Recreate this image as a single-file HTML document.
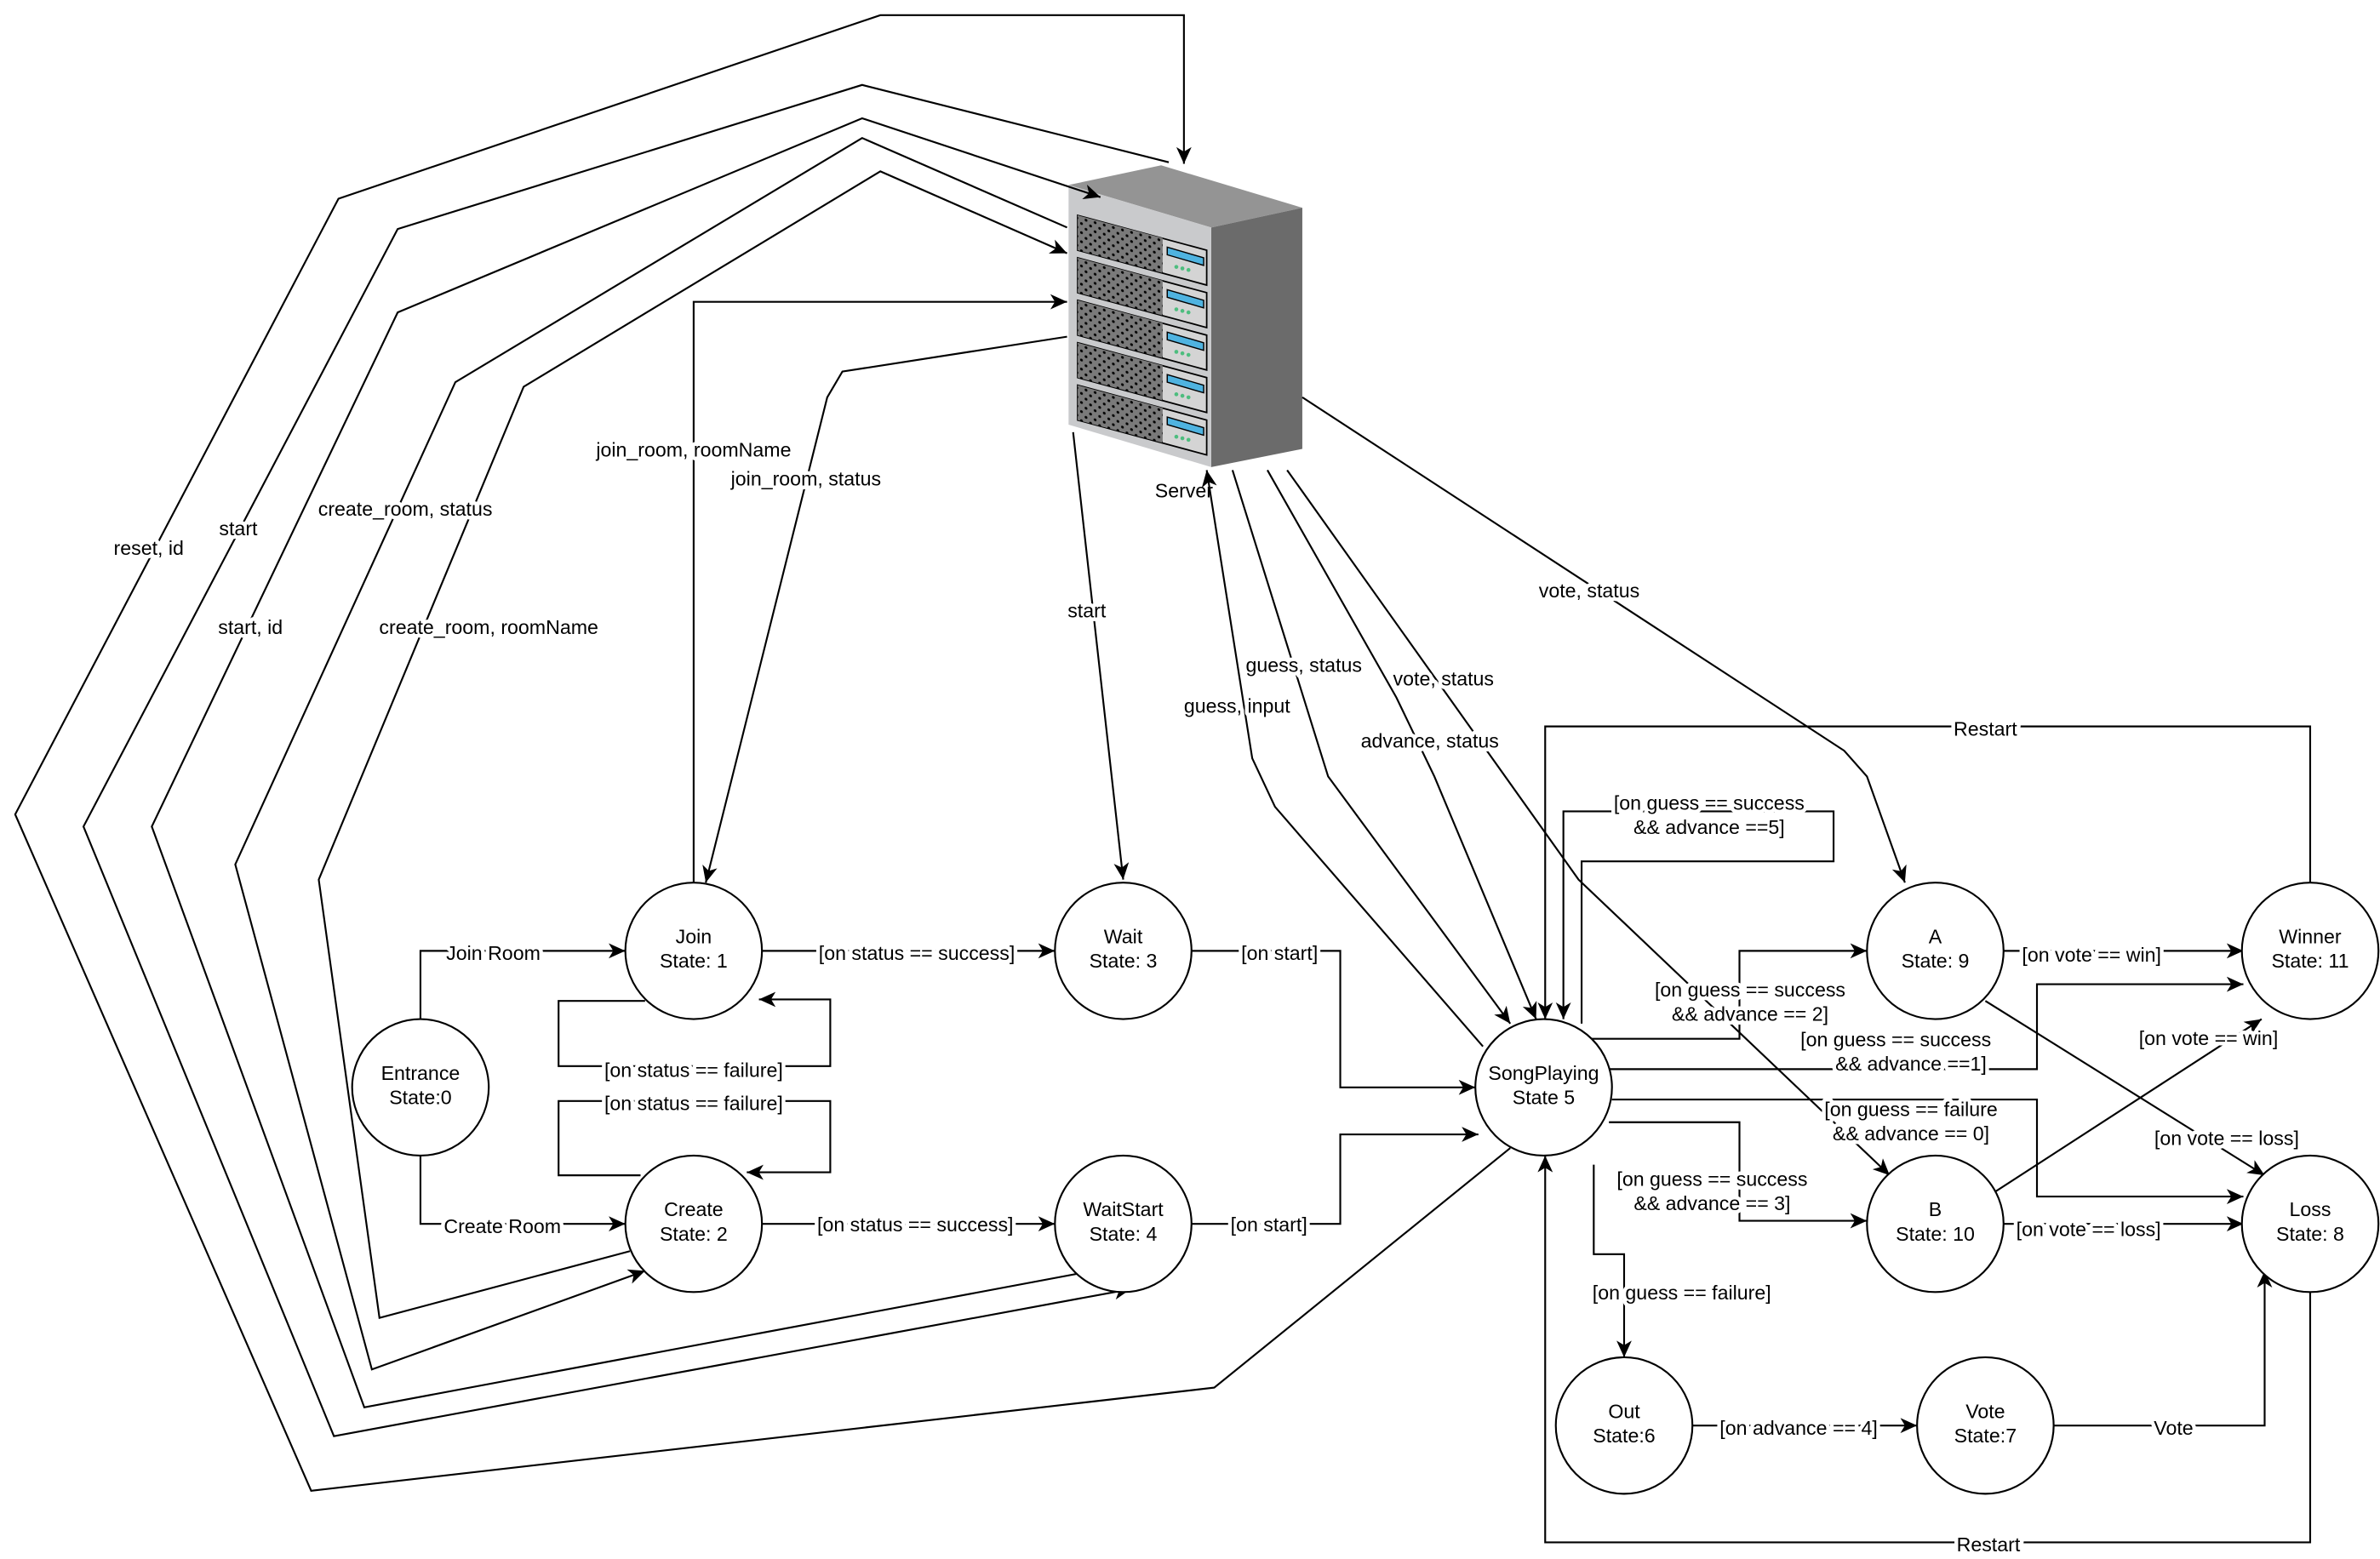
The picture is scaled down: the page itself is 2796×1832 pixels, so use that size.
<!DOCTYPE html>
<html><head><meta charset="utf-8"><style>
html,body{margin:0;padding:0;background:#fff;}
svg{display:block;}
text{font-family:"Liberation Sans",Arial,sans-serif;font-size:13px;fill:#000;}
.l{paint-order:stroke;stroke:#fff;stroke-width:5px;stroke-linejoin:round;}
</style></head><body>
<svg width="2796" height="1832" viewBox="0 0 1568 1028" preserveAspectRatio="none" xmlns="http://www.w3.org/2000/svg">
<defs>
<marker id="a" markerUnits="userSpaceOnUse" markerWidth="12" markerHeight="10" refX="11" refY="5" orient="auto">
<path d="M0,0 L11,5 L0,10 L3,5 Z" fill="#000"/>
</marker>
<pattern id="dots" width="6" height="6" patternUnits="userSpaceOnUse" patternTransform="skewY(15)">
<rect width="6" height="6" fill="#7a7a7a"/>
<circle cx="1.5" cy="1.5" r="0.9" fill="#000"/><circle cx="4.5" cy="4.5" r="0.9" fill="#000"/>
</pattern>
</defs>
<rect width="1568" height="1028" fill="#fff"/>

<!-- Server -->
<polygon points="704,122 765,109 858,137 798,150" fill="#949494"/>
<polygon points="798,150 858,137 858,296 798,308" fill="#6b6b6b"/>
<polygon points="704,122 798,150 798,308 704,280" fill="#c9cacc"/>
<g stroke="#000" stroke-width="1">
<g id="dr">
<polygon points="710,142 795,165 795,188 710,165" fill="#d4d4d4"/>
<polygon points="710,142 766,157 766,180 710,165" fill="url(#dots)" stroke="none"/>
<polygon points="769,163 793,170 793,175 769,168" fill="#4fb3e0" stroke-width="0.8"/>
</g>
<use href="#dr" y="28"/><use href="#dr" y="56"/><use href="#dr" y="84"/><use href="#dr" y="112"/>
</g>
<g fill="#4dbd7e">
<circle cx="775" cy="176" r="1.3"/><circle cx="779" cy="177" r="1.3"/><circle cx="783" cy="178" r="1.3"/>
<circle cx="775" cy="204" r="1.3"/><circle cx="779" cy="205" r="1.3"/><circle cx="783" cy="206" r="1.3"/>
<circle cx="775" cy="232" r="1.3"/><circle cx="779" cy="233" r="1.3"/><circle cx="783" cy="234" r="1.3"/>
<circle cx="775" cy="260" r="1.3"/><circle cx="779" cy="261" r="1.3"/><circle cx="783" cy="262" r="1.3"/>
<circle cx="775" cy="288" r="1.3"/><circle cx="779" cy="289" r="1.3"/><circle cx="783" cy="290" r="1.3"/>
</g>
<text x="780" y="328" text-anchor="middle">Server</text>

<!-- edges -->
<g fill="none" stroke="#000" stroke-width="1.2">
<!-- big loops -->
<polyline points="995,757 800,915 205,983 10,537 223,131 580,10 780,10 780,108" marker-end="url(#a)"/>
<polyline points="770,107 568,56 262,151 55,545 220,947 745,850" marker-end="url(#a)"/>
<polyline points="720,838 240,928 100,545 262,206 568,78 725,130" marker-end="url(#a)"/>
<polyline points="703,150 568,91 300,252 155,570 245,903 425,838" marker-end="url(#a)"/>
<polyline points="415,825 250,869 210,580 345,255 580,113 703,167" marker-end="url(#a)"/>
<!-- join/create to server -->
<polyline points="457,582 457,199 703,199" marker-end="url(#a)"/>
<polyline points="703,222 555,245 545,262 465,582" marker-end="url(#a)"/>
<polyline points="707,285 740,580" marker-end="url(#a)"/>
<polyline points="977,690 840,532 825,500 795,310" marker-end="url(#a)"/>
<polyline points="812,310 875,512 995,675" marker-end="url(#a)"/>
<polyline points="835,310 920,460 945,512 1012,672" marker-end="url(#a)"/>
<polyline points="848,310 1040,580 1245,775" marker-end="url(#a)"/>
<polyline points="858,262 1215,495 1230,512 1255,582" marker-end="url(#a)"/>
<!-- left nodes -->
<polyline points="277,672 277,627 412,627" marker-end="url(#a)"/>
<polyline points="277,762 277,807 412,807" marker-end="url(#a)"/>
<polyline points="502,627 695,627" marker-end="url(#a)"/>
<polyline points="502,807 695,807" marker-end="url(#a)"/>
<polyline points="425,660 368,660 368,703 547,703 547,659 500,659" marker-end="url(#a)"/>
<polyline points="422,775 368,775 368,726 547,726 547,773 492,773" marker-end="url(#a)"/>
<polyline points="785,627 883,627 883,717 972,717" marker-end="url(#a)"/>
<polyline points="785,807 883,807 883,748 974,748" marker-end="url(#a)"/>
<!-- right part -->
<polyline points="1522,582 1522,479 1018,479 1018,672" marker-end="url(#a)"/>
<polyline points="1042,675 1042,568 1208,568 1208,535 1030,535 1030,672" marker-end="url(#a)"/>
<polyline points="1048,685 1146,685 1146,627 1230,627" marker-end="url(#a)"/>
<polyline points="1060,705 1342,705 1342,649 1478,649" marker-end="url(#a)"/>
<polyline points="1062,725 1342,725 1342,789 1478,789" marker-end="url(#a)"/>
<polyline points="1060,740 1146,740 1146,805 1230,805" marker-end="url(#a)"/>
<polyline points="1050,768 1050,827 1070,827 1070,895" marker-end="url(#a)"/>
<polyline points="1320,627 1478,627" marker-end="url(#a)"/>
<polyline points="1308,660 1492,775" marker-end="url(#a)"/>
<polyline points="1308,790 1490,672" marker-end="url(#a)"/>
<polyline points="1320,807 1478,807" marker-end="url(#a)"/>
<polyline points="1115,940 1263,940" marker-end="url(#a)"/>
<polyline points="1353,940 1492,940 1492,838" marker-end="url(#a)"/>
<polyline points="1522,852 1522,1017 1018,1017 1018,762" marker-end="url(#a)"/>
</g>

<!-- nodes -->
<g fill="#fff" stroke="#000" stroke-width="1.2">
<ellipse cx="277" cy="717" rx="45" ry="45"/>
<ellipse cx="457" cy="627" rx="45" ry="45"/>
<ellipse cx="457" cy="807" rx="45" ry="45"/>
<ellipse cx="740" cy="627" rx="45" ry="45"/>
<ellipse cx="740" cy="807" rx="45" ry="45"/>
<ellipse cx="1017" cy="717" rx="45" ry="45"/>
<ellipse cx="1275" cy="627" rx="45" ry="45"/>
<ellipse cx="1275" cy="807" rx="45" ry="45"/>
<ellipse cx="1522" cy="627" rx="45" ry="45"/>
<ellipse cx="1522" cy="807" rx="45" ry="45"/>
<ellipse cx="1070" cy="940" rx="45" ry="45"/>
<ellipse cx="1308" cy="940" rx="45" ry="45"/>
</g>
<g text-anchor="middle">
<text x="277" y="712">Entrance</text><text x="277" y="728">State:0</text>
<text x="457" y="622">Join</text><text x="457" y="638">State: 1</text>
<text x="457" y="802">Create</text><text x="457" y="818">State: 2</text>
<text x="740" y="622">Wait</text><text x="740" y="638">State: 3</text>
<text x="740" y="802">WaitStart</text><text x="740" y="818">State: 4</text>
<text x="1017" y="712">SongPlaying</text><text x="1017" y="728">State 5</text>
<text x="1275" y="622">A</text><text x="1275" y="638">State: 9</text>
<text x="1275" y="802">B</text><text x="1275" y="818">State: 10</text>
<text x="1522" y="622">Winner</text><text x="1522" y="638">State: 11</text>
<text x="1522" y="802">Loss</text><text x="1522" y="818">State: 8</text>
<text x="1070" y="935">Out</text><text x="1070" y="951">State:6</text>
<text x="1308" y="935">Vote</text><text x="1308" y="951">State:7</text>
</g>

<!-- labels -->
<g text-anchor="middle" class="l">
<text x="98" y="366">reset, id</text>
<text x="157" y="353">start</text>
<text x="165" y="418">start, id</text>
<text x="267" y="340">create_room, status</text>
<text x="322" y="418">create_room, roomName</text>
<text x="457" y="301">join_room, roomName</text>
<text x="531" y="320">join_room, status</text>
<text x="716" y="407">start</text>
<text x="815" y="470">guess, input</text>
<text x="859" y="443">guess, status</text>
<text x="942" y="493">advance, status</text>
<text x="951" y="452">vote, status</text>
<text x="1047" y="394">vote, status</text>
<text x="325" y="633">Join Room</text>
<text x="331" y="813">Create Room</text>
<text x="604" y="633">[on status == success]</text>
<text x="603" y="812">[on status == success]</text>
<text x="457" y="710">[on status == failure]</text>
<text x="457" y="732">[on status == failure]</text>
<text x="843" y="633">[on start]</text>
<text x="836" y="812">[on start]</text>
<text x="1308" y="485">Restart</text>
<text x="1126" y="534">[on guess == success</text>
<text x="1126" y="550">&amp;&amp; advance ==5]</text>
<text x="1153" y="657">[on guess == success</text>
<text x="1153" y="673">&amp;&amp; advance == 2]</text>
<text x="1249" y="690">[on guess == success</text>
<text x="1259" y="706">&amp;&amp; advance ==1]</text>
<text x="1259" y="736">[on guess == failure</text>
<text x="1259" y="752">&amp;&amp; advance == 0]</text>
<text x="1128" y="782">[on guess == success</text>
<text x="1128" y="798">&amp;&amp; advance == 3]</text>
<text x="1108" y="857">[on guess == failure]</text>
<text x="1378" y="634">[on vote == win]</text>
<text x="1467" y="755">[on vote == loss]</text>
<text x="1455" y="689">[on vote == win]</text>
<text x="1376" y="815">[on vote == loss]</text>
<text x="1185" y="946">[on advance == 4]</text>
<text x="1432" y="946">Vote</text>
<text x="1310" y="1023">Restart</text>
</g>
</svg>
</body></html>
